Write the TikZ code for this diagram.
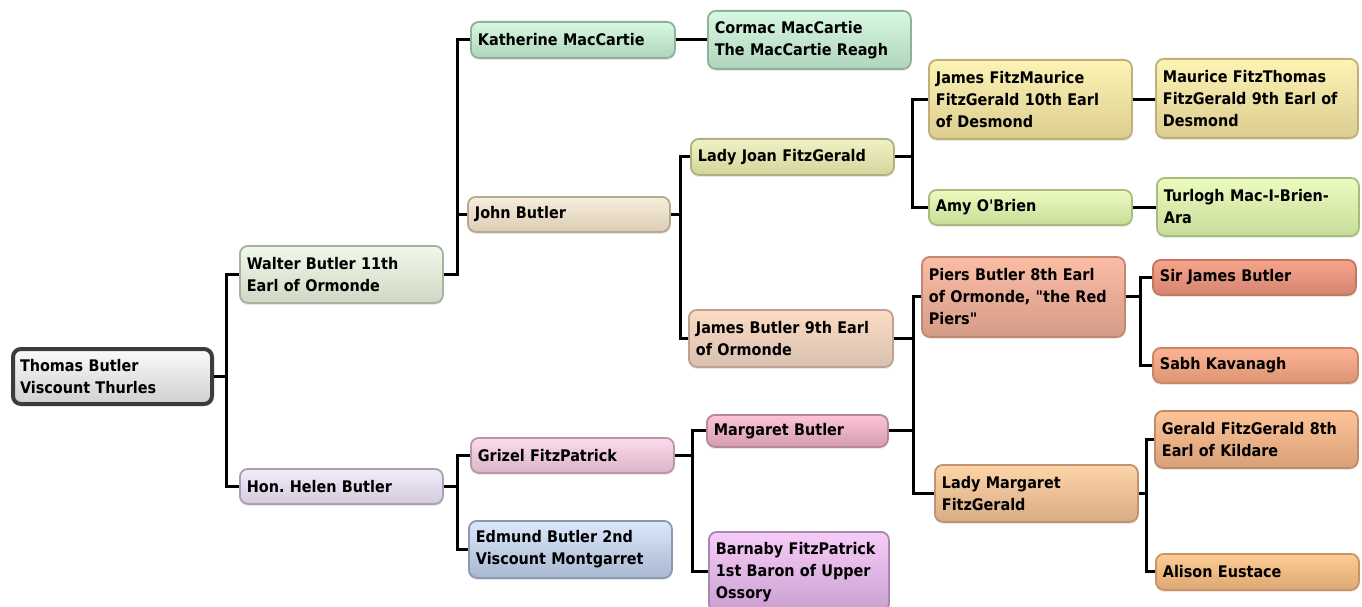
\documentclass[tikz,border=0pt]{standalone}
\usepackage{fontspec}
\newfontfamily\nodefont{DejaVu Sans Condensed}[BoldFont={* Bold}]
\usetikzlibrary{shadows}
\frenchspacing
\begin{document}
\begin{tikzpicture}[x=1pt,y=-1pt,
  box/.style n args={3}{rounded corners=8pt, draw=#3, line width=1.8pt,
     top color=#1, bottom color=#2, inner xsep=7pt, inner ysep=2pt,
     drop shadow={opacity=0.18, shadow xshift=0pt, shadow yshift=-2pt},
     align=left, anchor=north west, font=\fontsize{16}{22}\nodefont\bfseries},
  conn/.style={line width=3pt, black}]
\definecolor{tT}{HTML}{FAFAFA}\definecolor{tB}{HTML}{D0D0D0}\definecolor{tD}{HTML}{3C3C3C}
\definecolor{waT}{HTML}{F0F8EA}\definecolor{waB}{HTML}{D0D8C4}\definecolor{waD}{HTML}{A8B0A0}
\definecolor{heT}{HTML}{F2ECF8}\definecolor{heB}{HTML}{D4CADE}\definecolor{heD}{HTML}{A8A0B4}
\definecolor{kaT}{HTML}{D8F8E2}\definecolor{kaB}{HTML}{B0D4BC}\definecolor{kaD}{HTML}{90B09C}
\definecolor{joT}{HTML}{F6EEDC}\definecolor{joB}{HTML}{DCCDB4}\definecolor{joD}{HTML}{B8A890}
\definecolor{ljT}{HTML}{F0F2C4}\definecolor{ljB}{HTML}{D4D49C}\definecolor{ljD}{HTML}{B0B080}
\definecolor{jfT}{HTML}{FCF4B4}\definecolor{jfB}{HTML}{DCCC90}\definecolor{jfD}{HTML}{C0B078}
\definecolor{amT}{HTML}{ECFCC0}\definecolor{amB}{HTML}{C8DC98}\definecolor{amD}{HTML}{A8BC80}
\definecolor{j9T}{HTML}{FCDCC4}\definecolor{j9B}{HTML}{D8C0B0}\definecolor{j9D}{HTML}{C0A090}
\definecolor{piT}{HTML}{FCBCA4}\definecolor{piB}{HTML}{D49C88}\definecolor{piD}{HTML}{C08870}
\definecolor{sjT}{HTML}{F8A48C}\definecolor{sjB}{HTML}{D48470}\definecolor{sjD}{HTML}{C07860}
\definecolor{sbT}{HTML}{FCB494}\definecolor{sbB}{HTML}{DC9474}\definecolor{sbD}{HTML}{C88868}
\definecolor{grT}{HTML}{FADCEC}\definecolor{grB}{HTML}{DCB4C8}\definecolor{grD}{HTML}{B898A8}
\definecolor{edT}{HTML}{DCE8FC}\definecolor{edB}{HTML}{A8B8D0}\definecolor{edD}{HTML}{8C98B0}
\definecolor{mbT}{HTML}{FCC4D4}\definecolor{mbB}{HTML}{D49CB0}\definecolor{mbD}{HTML}{B88898}
\definecolor{baT}{HTML}{F8CCF8}\definecolor{baB}{HTML}{C8A0D0}\definecolor{baD}{HTML}{A888B0}
\definecolor{lmT}{HTML}{FED4A8}\definecolor{lmB}{HTML}{D8AC84}\definecolor{lmD}{HTML}{C09470}
\definecolor{geT}{HTML}{FEC498}\definecolor{geB}{HTML}{D8A078}\definecolor{geD}{HTML}{C08C68}
\definecolor{alT}{HTML}{FECC94}\definecolor{alB}{HTML}{DCA874}\definecolor{alD}{HTML}{C89468}
\useasboundingbox (0,0) rectangle (1362,607);
\fill[white] (0,0) rectangle (1362,607);

\coordinate (b1) at (226,0);
\coordinate (b2) at (457,0);
\coordinate (b3) at (680,0);
\coordinate (b4) at (912,0);
\coordinate (b5) at (913,0);
\coordinate (b6) at (1140,0);
\coordinate (b7) at (1146,0);
\coordinate (b8) at (692,0);

\node[box={tT}{tB}{tD}, line width=4pt, text width=185pt, minimum height=55pt] (thomas) at (11,347) {Thomas Butler\\Viscount Thurles};
\node[box={waT}{waB}{waD}, text width=189pt, minimum height=57pt] (walter) at (239,245) {Walter Butler 11th\\Earl of Ormonde};
\node[box={heT}{heB}{heD}, text width=189pt, minimum height=35pt] (helen) at (239,468) {Hon. Helen Butler};
\node[box={kaT}{kaB}{kaD}, text width=190pt, minimum height=36pt] (kath) at (470,21) {Katherine MacCartie};
\node[box={kaT}{kaB}{kaD}, text width=189pt, minimum height=58pt] (cormac) at (707,10) {Cormac MacCartie\\The MacCartie Reagh};
\node[box={joT}{joB}{joD}, text width=188pt, minimum height=35pt] (john) at (467,196) {John Butler};
\node[box={ljT}{ljB}{ljD}, text width=189pt, minimum height=36pt] (joan) at (690,138) {Lady Joan FitzGerald};
\node[box={jfT}{jfB}{jfD}, text width=189pt, minimum height=79pt] (jfm) at (928,59) {James FitzMaurice\\FitzGerald 10th Earl\\of Desmond};
\node[box={jfT}{jfB}{jfD}, text width=188pt, minimum height=79pt] (mft) at (1155,58) {Maurice FitzThomas\\FitzGerald 9th Earl of\\Desmond};
\node[box={amT}{amB}{amD}, text width=189pt, minimum height=35pt] (amy) at (928,189) {Amy O'Brien};
\node[box={amT}{amB}{amD}, text width=188pt, minimum height=58pt] (turlogh) at (1156,177) {Turlogh Mac-I-Brien-\\Ara};
\node[box={j9T}{j9B}{j9D}, text width=190pt, minimum height=57pt] (james9) at (688,309) {James Butler 9th Earl\\of Ormonde};
\node[box={piT}{piB}{piD}, text width=189pt, minimum height=80pt] (piers) at (921,256) {Piers Butler 8th Earl\\of Ormonde, "the Red\\Piers"};
\node[box={sjT}{sjB}{sjD}, text width=189pt, minimum height=35pt] (sirjames) at (1152,259) {Sir James Butler};
\node[box={sbT}{sbB}{sbD}, text width=191pt, minimum height=35pt] (sabh) at (1152,347) {Sabh Kavanagh};
\node[box={grT}{grB}{grD}, text width=189pt, minimum height=35pt] (grizel) at (470,437) {Grizel FitzPatrick};
\node[box={edT}{edB}{edD}, text width=189pt, minimum height=57pt] (edmund) at (468,520) {Edmund Butler 2nd\\Viscount Montgarret};
\node[box={mbT}{mbB}{mbD}, text width=167pt, minimum height=32pt] (margaret) at (706,414) {Margaret Butler};
\node[box={baT}{baB}{baD}, text width=166pt, minimum height=80pt] (barnaby) at (708,531) {Barnaby FitzPatrick\\1st Baron of Upper\\Ossory};
\node[box={lmT}{lmB}{lmD}, text width=189pt, minimum height=57pt] (ladym) at (934,464) {Lady Margaret\\FitzGerald};
\node[box={geT}{geB}{geD}, text width=189pt, minimum height=57pt] (gerald) at (1154,410) {Gerald FitzGerald 8th\\Earl of Kildare};
\node[box={alT}{alB}{alD}, text width=189pt, minimum height=36pt] (alison) at (1155,553) {Alison Eustace};

\draw[conn] (thomas.east) -- (thomas.east -| b1);
\draw[conn] (walter.west) -- (walter.west -| b1) -- (helen.west -| b1) -- (helen.west);
\draw[conn] (walter.east) -- (walter.east -| b2) -- (kath.west -| b2) -- (kath.west);
\draw[conn] (john.west) -- (john.west -| b2);
\draw[conn] (helen.east) -- (helen.east -| b2);
\draw[conn] (grizel.west) -- (grizel.west -| b2) -- (edmund.west -| b2) -- (edmund.west);
\draw[conn] (kath.east) -- (cormac.west);
\draw[conn] (john.east) -- (john.east -| b3);
\draw[conn] (joan.west) -- (joan.west -| b3) -- (james9.west -| b3) -- (james9.west);
\draw[conn] (joan.east) -- (joan.east -| b4);
\draw[conn] (jfm.west) -- (jfm.west -| b4) -- (amy.west -| b4) -- (amy.west);
\draw[conn] (jfm.east) -- (jfm.east -| mft.west);
\draw[conn] (amy.east) -- (amy.east -| turlogh.west);
\draw[conn] (james9.east) -- (james9.east -| b5);
\draw[conn] (margaret.east) -- (margaret.east -| b5);
\draw[conn] (piers.west) -- (piers.west -| b5) -- (ladym.west -| b5) -- (ladym.west);
\draw[conn] (piers.east) -- (piers.east -| b6);
\draw[conn] (sirjames.west) -- (sirjames.west -| b6) -- (sabh.west -| b6) -- (sabh.west);
\draw[conn] (ladym.east) -- (ladym.east -| b7);
\draw[conn] (gerald.west) -- (gerald.west -| b7) -- (alison.west -| b7) -- (alison.west);
\draw[conn] (grizel.east) -- (grizel.east -| b8);
\draw[conn] (margaret.west) -- (margaret.west -| b8) -- (barnaby.west -| b8) -- (barnaby.west);
\end{tikzpicture}
\end{document}
